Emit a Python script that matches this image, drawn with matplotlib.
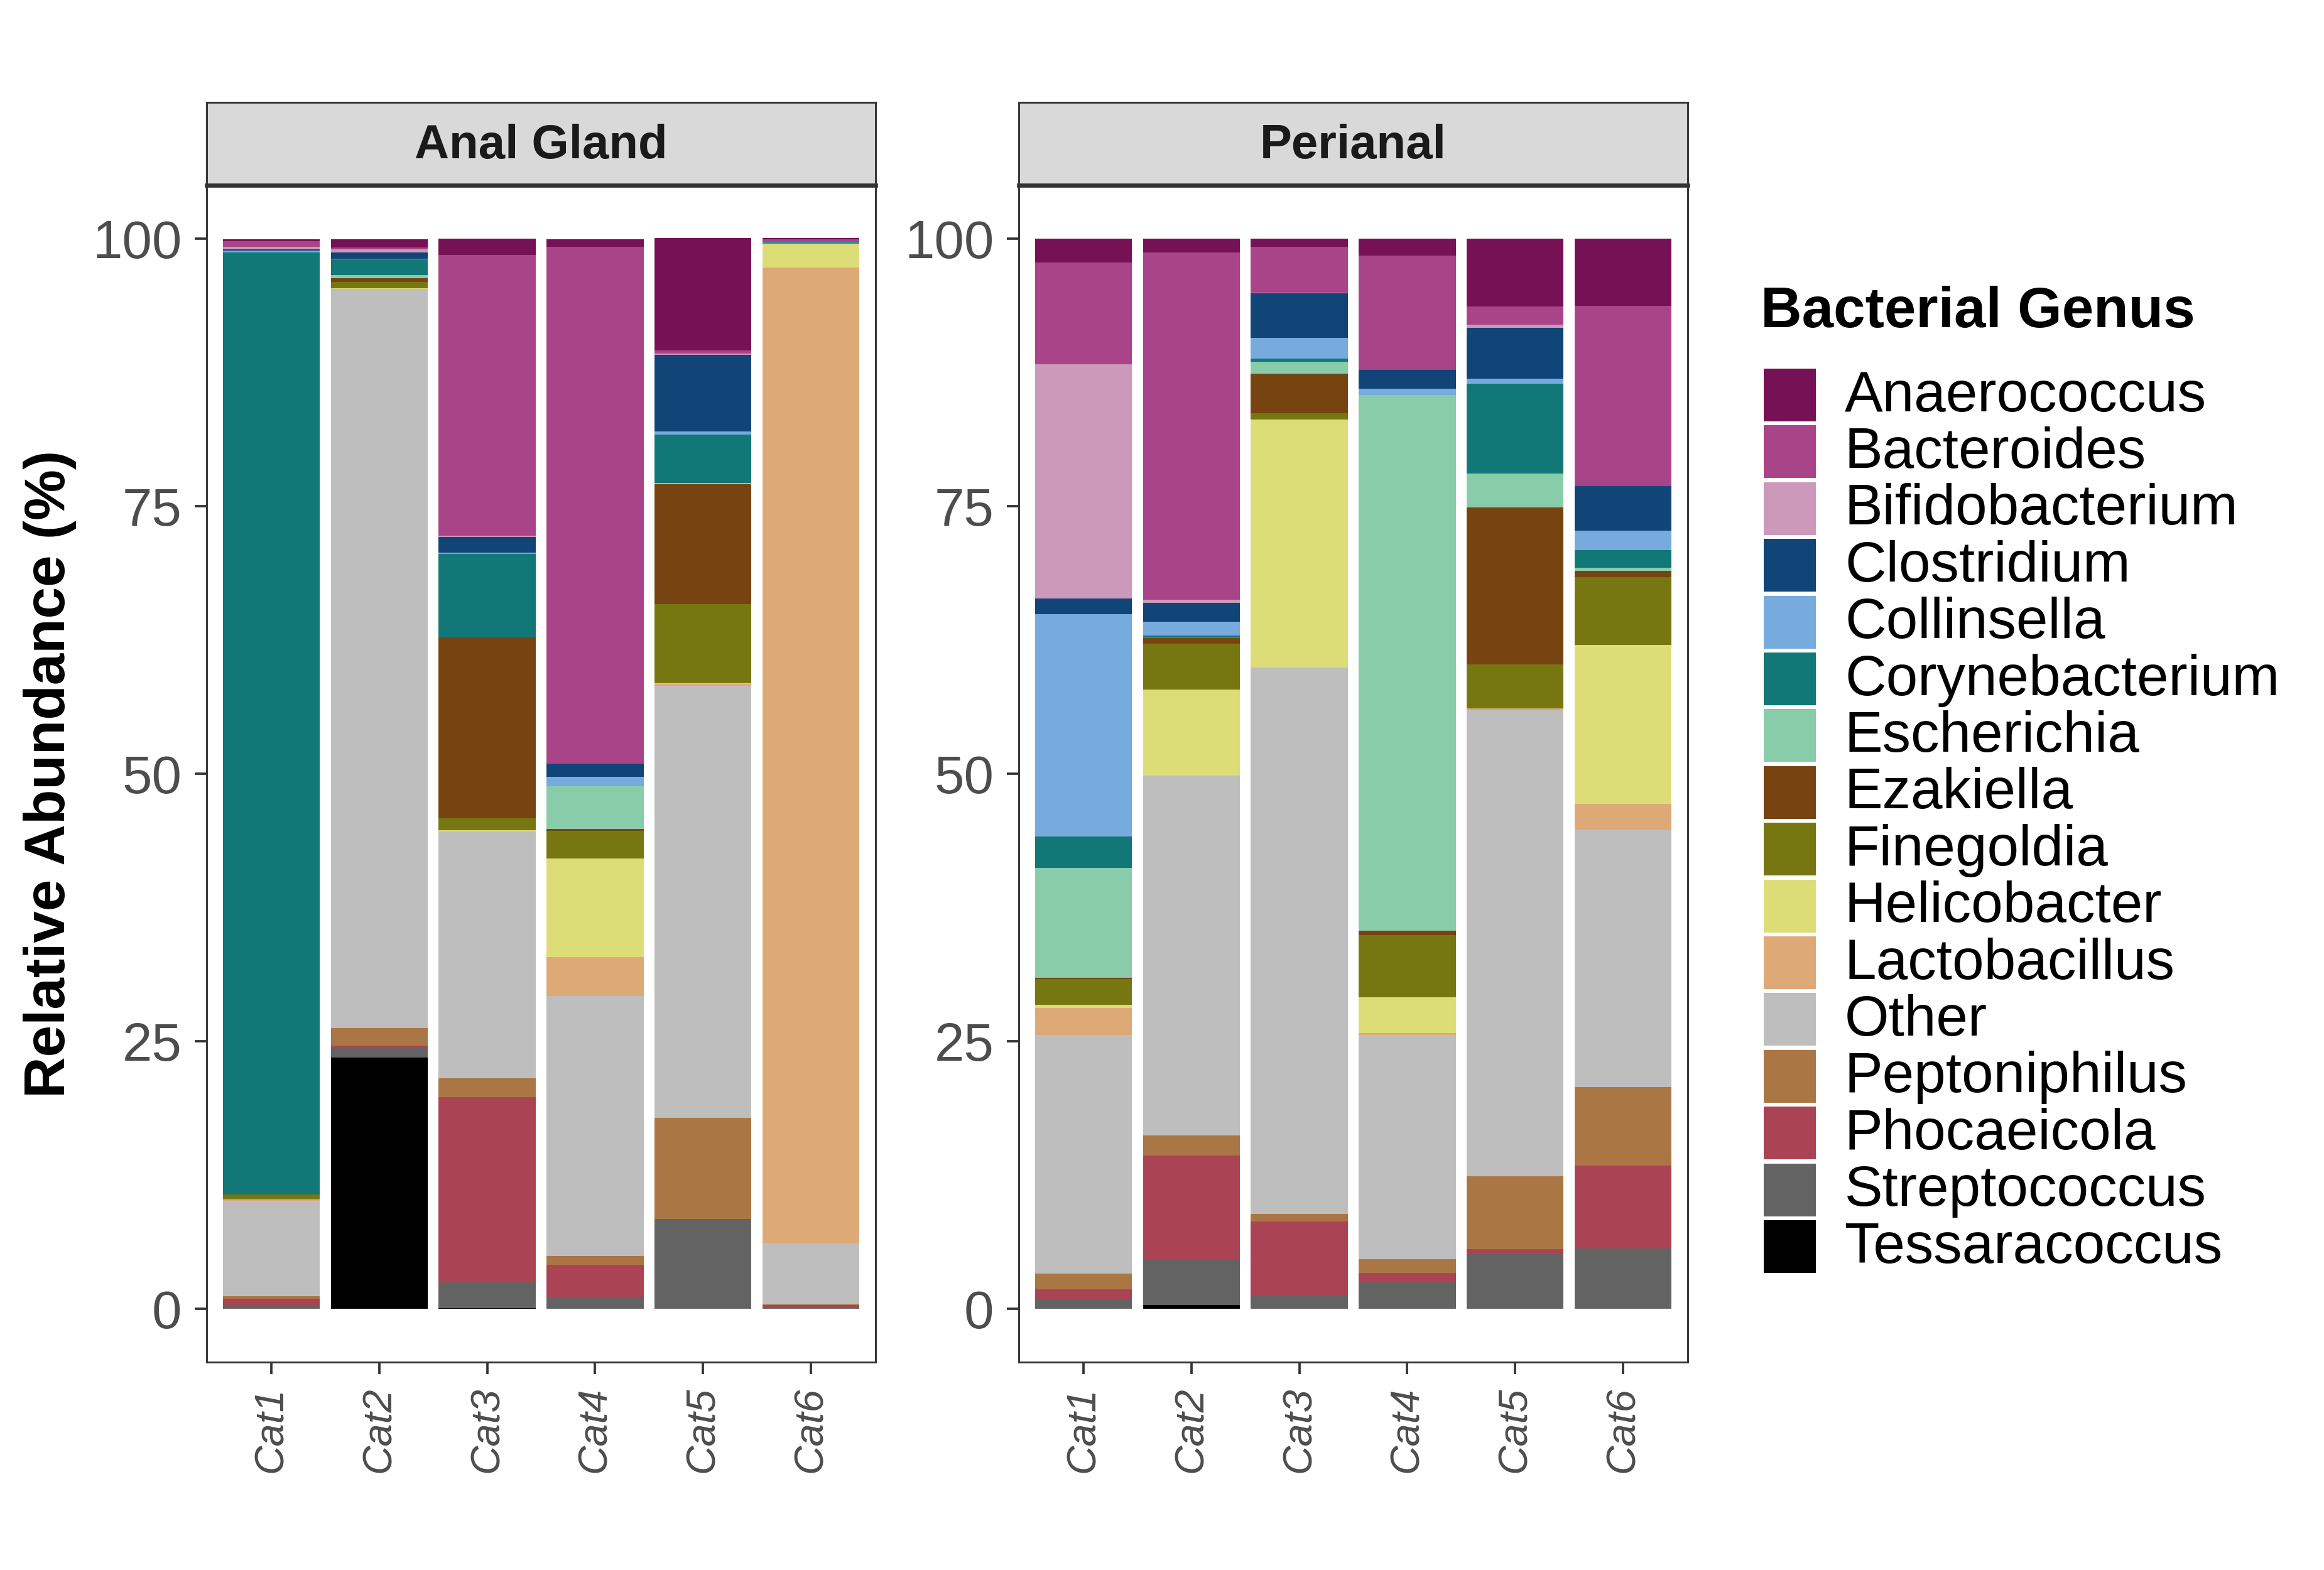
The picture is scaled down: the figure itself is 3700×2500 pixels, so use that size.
import matplotlib
matplotlib.use("Agg")
import matplotlib.pyplot as plt
from matplotlib.patches import Rectangle
import numpy as np

plt.rcParams['font.family'] = ['Liberation Sans', 'DejaVu Sans']

# legend order (top of stack first)
genera = ['Anaerococcus', 'Bacteroides', 'Bifidobacterium', 'Clostridium', 'Collinsella',
          'Corynebacterium', 'Escherichia', 'Ezakiella', 'Finegoldia', 'Helicobacter',
          'Lactobacillus', 'Other', 'Peptoniphilus', 'Phocaeicola', 'Streptococcus',
          'Tessaracoccus']
colors = ['#771155', '#AA4488', '#CC99BB', '#114477', '#77AADD', '#117777', '#88CCAA',
          '#774411', '#777711', '#DDDD77', '#DDAA77', '#BEBEBE', '#AA7744', '#AA4455',
          '#636363', '#000000']
cats = ['Cat1', 'Cat2', 'Cat3', 'Cat4', 'Cat5', 'Cat6']
sites = ['Anal Gland', 'Perianal']

# relative abundance (%) per genus, Cat1..Cat6
anal_gland = {
    'Anaerococcus':    [0.20, 0.74, 1.54, 0.74, 10.50, 0.10],
    'Bacteroides':     [0.54, 0.20, 26.24, 48.29, 0.34, 0.23],
    'Bifidobacterium': [0.20, 0.27, 0.13, 0.00, 0.10, 0.00],
    'Clostridium':     [0.13, 0.60, 1.48, 1.27, 7.15, 0.03],
    'Collinsella':     [0.20, 0.07, 0.10, 0.86, 0.30, 0.05],
    'Corynebacterium': [88.00, 1.48, 7.79, 0.00, 4.53, 0.05],
    'Escherichia':     [0.05, 0.27, 0.00, 4.00, 0.10, 0.00],
    'Ezakiella':       [0.00, 0.34, 16.95, 0.19, 11.21, 0.00],
    'Finegoldia':      [0.45, 0.60, 1.12, 2.58, 7.42, 0.07],
    'Helicobacter':    [0.05, 0.04, 0.07, 9.21, 0.03, 2.21],
    'Lactobacillus':   [0.05, 0.03, 0.00, 3.63, 0.17, 91.18],
    'Other':           [8.95, 69.08, 23.11, 24.30, 40.40, 5.73],
    'Peptoniphilus':   [0.22, 1.65, 1.72, 0.79, 9.48, 0.05],
    'Phocaeicola':     [0.67, 0.15, 17.34, 3.00, 0.05, 0.30],
    'Streptococcus':   [0.26, 0.97, 2.40, 1.12, 8.31, 0.05],
    'Tessaracoccus':   [0.00, 23.45, 0.05, 0.00, 0.00, 0.00],
}
perianal = {
    'Anaerococcus':    [2.21, 1.28, 0.77, 1.58, 6.31, 6.28],
    'Bacteroides':     [9.53, 32.48, 4.26, 10.64, 1.71, 16.74],
    'Bifidobacterium': [21.85, 0.27, 0.05, 0.00, 0.30, 0.05],
    'Clostridium':     [1.51, 1.78, 4.19, 1.78, 4.77, 4.26],
    'Collinsella':     [20.78, 1.28, 1.95, 0.60, 0.44, 1.78],
    'Corynebacterium': [2.92, 0.13, 0.30, 0.00, 8.42, 1.68],
    'Escherichia':     [10.26, 0.05, 1.07, 50.08, 3.19, 0.27],
    'Ezakiella':       [0.15, 0.60, 3.72, 0.41, 14.63, 0.60],
    'Finegoldia':      [2.40, 4.26, 0.60, 5.77, 4.13, 6.31],
    'Helicobacter':    [0.30, 8.08, 23.19, 3.37, 0.00, 14.86],
    'Lactobacillus':   [2.51, 0.00, 0.00, 0.15, 0.20, 2.40],
    'Other':           [22.28, 33.63, 51.02, 20.97, 43.51, 24.08],
    'Peptoniphilus':   [1.50, 1.87, 0.75, 1.31, 6.85, 7.34],
    'Phocaeicola':     [0.97, 9.66, 6.93, 0.86, 0.30, 7.75],
    'Streptococcus':   [0.82, 4.27, 1.20, 2.47, 5.24, 5.62],
    'Tessaracoccus':   [0.00, 0.37, 0.00, 0.00, 0.00, 0.00],
}
panel_data = [anal_gland, perianal]

W, H = 3700, 2500
fig = plt.figure(figsize=(W / 300, H / 300), dpi=300)

def fx(px):
    return px / W

def fy(py):
    return 1 - py / H

panel_left = [329, 1622]
panel_w = 1065
panel_top, panel_bot = 295, 2169
strip_top = 163
dark = '#333333'
tick_col = '#4D4D4D'

x = np.arange(1, len(cats) + 1)
for k, (site, data) in enumerate(zip(sites, panel_data)):
    ax = fig.add_axes([fx(panel_left[k]), fy(panel_bot), fx(panel_w), (panel_bot - panel_top) / H])
    bottom = np.zeros(len(cats))
    for g, c in zip(genera[::-1], colors[::-1]):
        vals = np.array(data[g])
        ax.bar(x, vals, width=0.9, bottom=bottom, color=c, linewidth=0)
        bottom += vals
    ax.set_xlim(0.4, 6.6)
    ax.set_ylim(-5, 105)
    ax.set_yticks([0, 25, 50, 75, 100])
    ax.set_xticks(x)
    ax.set_xticklabels(cats, rotation=90, fontsize=15.5, style='italic', color=tick_col)
    ax.tick_params(axis='y', labelsize=20.5, labelcolor=tick_col)
    ax.tick_params(length=4.5, width=0.9, color=dark, pad=5)
    for s in ax.spines.values():
        s.set_color(dark)
        s.set_linewidth(0.7)
    if k == 0:
        ax.set_ylabel('Relative Abundance (%)', fontsize=21.8, fontweight='bold', labelpad=6)

    sax = fig.add_axes([fx(panel_left[k]), fy(panel_top), fx(panel_w), (panel_top - strip_top) / H])
    sax.set_facecolor('#D9D9D9')
    sax.set_xticks([])
    sax.set_yticks([])
    for s in sax.spines.values():
        s.set_color(dark)
        s.set_linewidth(0.7)
    sax.spines['bottom'].set_linewidth(1.6)
    sax.text(0.5, 0.47, site, ha='center', va='center', fontsize=18.3,
             fontweight='bold', color='#1A1A1A', transform=sax.transAxes)

# legend drawn in pixel space
lax = fig.add_axes([0, 0, 1, 1])
lax.set_xlim(0, W)
lax.set_ylim(H, 0)
lax.axis('off')
lax.text(2803, 498, 'Bacterial Genus', fontsize=21.8, fontweight='bold', ha='left', va='center')
row0, step = 629, 90.4
for i, (g, c) in enumerate(zip(genera, colors)):
    yc = row0 + i * step
    lax.add_patch(Rectangle((2808, yc - 42), 83, 84, facecolor=c, edgecolor='none'))
    lax.text(2937, yc + 2, g, fontsize=21.8, ha='left', va='center', color='black')

fig.savefig('out.png', dpi=300)
